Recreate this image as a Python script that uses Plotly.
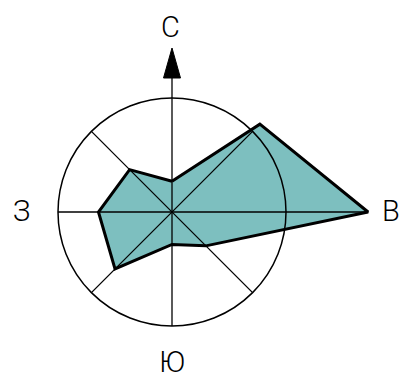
import numpy as np
import plotly.graph_objects as go

# роза ветров: повторяемость по 8 румбам (окружность = 10)
directions = ["С", "СВ", "В", "ЮВ", "Ю", "ЮЗ", "З", "СЗ"]
angles_deg = [90, 45, 0, -45, -90, -135, 180, 135]
values = [2.7, 10.9, 17.2, 4.2, 2.85, 7.07, 6.45, 5.26]
circle_r = 10
side_labels = ["С", "В", "Ю", "З"]

W, H = 400, 380
k = 11.4           # пикселей на единицу
cx, cy = 172, 212  # центр в пикселях

ang = np.radians(angles_deg)
px = np.array(values) * np.cos(ang)
py_ = np.array(values) * np.sin(ang)
px_c = list(px) + [px[0]]
py_c = list(py_) + [py_[0]]

fig = go.Figure()
fig.add_trace(go.Scatter(x=px_c, y=py_c, mode="lines", fill="toself",
                         fillcolor="#7dbfbf", line=dict(width=0, color="#7dbfbf"),
                         hoverinfo="skip", showlegend=False))

shapes = []
shapes.append(dict(type="circle", xref="x", yref="y", x0=-circle_r, y0=-circle_r,
                   x1=circle_r, y1=circle_r, line=dict(color="black", width=1.5)))
# диагонали
for a in [45, 135]:
    r = np.radians(a)
    shapes.append(dict(type="line", xref="x", yref="y",
                       x0=-circle_r*np.cos(r), y0=-circle_r*np.sin(r),
                       x1=circle_r*np.cos(r), y1=circle_r*np.sin(r),
                       line=dict(color="black", width=1.3)))
# горизонталь до восточного луча
shapes.append(dict(type="line", xref="x", yref="y", x0=-circle_r, y0=0,
                   x1=max(circle_r, values[2]), y1=0,
                   line=dict(color="black", width=1.3)))
# вертикаль со стрелкой на север
tip = (212 - 48) / k
head_h = 30 / k
head_w = 8.5 / k
shapes.append(dict(type="line", xref="x", yref="y", x0=0, y0=-circle_r,
                   x1=0, y1=tip - head_h + 0.2, line=dict(color="black", width=1.3)))
shapes.append(dict(type="path", xref="x", yref="y",
                   path=f"M {-head_w},{tip-head_h} L 0,{tip} L {head_w},{tip-head_h} Z",
                   fillcolor="black", line=dict(color="black", width=1)))

fig.add_trace(go.Scatter(x=px_c, y=py_c, mode="lines",
                         line=dict(color="black", width=3),
                         hoverinfo="skip", showlegend=False))

lab_pos = [(170, 27), (391, 211), (172, 362), (21, 211)]
annotations = []
for t, (x, y) in zip(side_labels, lab_pos):
    annotations.append(dict(x=(x - cx) / k, y=(cy - y) / k, text=t, showarrow=False,
                            font=dict(size=29, color="black", family="Roboto", weight=300),
                            xanchor="center", yanchor="middle"))

fig.update_layout(
    width=W, height=H,
    margin=dict(l=0, r=0, t=0, b=0),
    plot_bgcolor="white", paper_bgcolor="white",
    shapes=shapes, annotations=annotations,
    xaxis=dict(range=[-cx / k, (W - cx) / k], visible=False, fixedrange=True),
    yaxis=dict(range=[-(H - cy) / k, cy / k], visible=False, fixedrange=True),
)

fig.write_html("out.html", config={"displayModeBar": False},
               post_script="document.body.style.margin='0';document.body.style.overflow='hidden';")
